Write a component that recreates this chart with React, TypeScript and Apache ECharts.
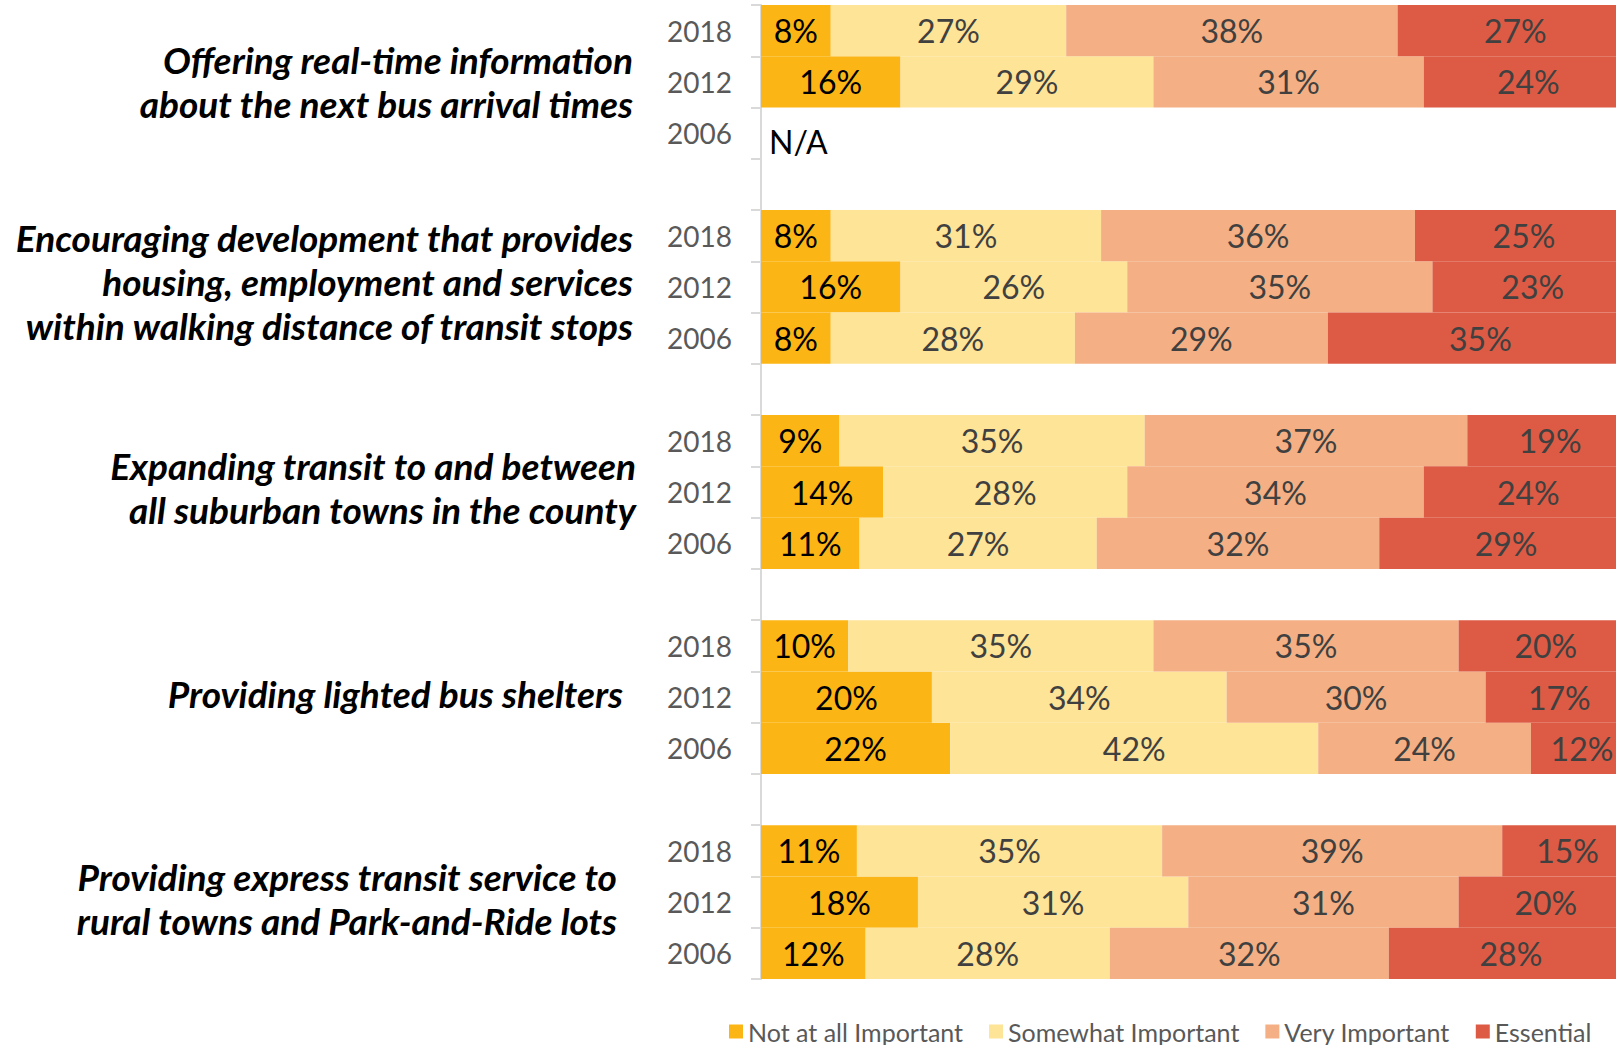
import React, { useEffect, useRef } from "react";
import * as echarts from "echarts";

const groupNames = [
  "Offering real-time information\nabout the next bus arrival times",
  "Encouraging development that provides\nhousing, employment and services\nwithin walking distance of transit stops",
  "Expanding transit to and between\nall suburban towns in the county",
  "Providing lighted bus shelters",
  "Providing express transit service to\nrural towns and Park-and-Ride lots",
];
const years = ["2018", "2012", "2006"];
const seriesNames = ["Not at all Important", "Somewhat Important", "Very Important", "Essential"];

// rows: per group 2018, 2012, 2006 (null = N/A)
const notAtAll = [8, 16, null, 8, 16, 8, 9, 14, 11.3, 10, 19.6, 21.7, 11, 18, 12];
const somewhat = [27, 29, null, 31, 26, 28, 35, 28, 27.2, 35, 33.8, 42.2, 35, 31, 28];
const veryImp = [38, 31, null, 36, 35, 29, 37, 34, 32.4, 35, 29.7, 24.4, 39, 31, 32];
const essential = [27, 24, null, 25, 23, 35, 19, 24, 29.1, 20, 16.9, 11.7, 15, 20, 28];

const colors = ["#FBB616", "#FEE497", "#F4B084", "#DD5B44"];
const labelColors = ["#000000", "#404040", "#404040", "#404040"];
const groupPadRight = [3, 3, 0, 13, 19];
const groupLift = [0, 11, 10, 8, 7];

export default function App() {
  const ref = useRef<HTMLDivElement>(null);
  useEffect(() => {
    if (!ref.current) return;
    const chart = echarts.init(ref.current, null, { renderer: "svg" });

    // build 19 slots: 3 rows per group + gap between groups
    const yearSlots: string[] = [];
    const groupSlots: any[] = [];
    const slotRow: (number | null)[] = [];
    const slotGroup: number[] = [];
    groupNames.forEach((g, gi) => {
      years.forEach((y, yi) => {
        yearSlots.push(y);
        groupSlots.push(
          yi === 1
            ? { value: g, textStyle: { padding: [0, groupPadRight[gi], 0, 0] } }
            : ""
        );
        slotRow.push(gi * 3 + yi);
        slotGroup.push(gi);
      });
      if (gi < groupNames.length - 1) {
        yearSlots.push("");
        groupSlots.push("");
        slotRow.push(null);
        slotGroup.push(gi);
      }
    });

    const rich: any = {};
    groupLift.forEach((h, gi) => {
      rich["s" + gi] = { fontSize: 1, lineHeight: Math.max(h, 1), color: "transparent" };
    });

    const allSeries = [notAtAll, somewhat, veryImp, essential];
    const series = allSeries.map((arr, si) => ({
      name: seriesNames[si],
      type: "bar",
      stack: "total",
      barCategoryGap: "0%",
      itemStyle: { color: colors[si] },
      label: {
        show: true,
        position: "inside",
        fontFamily: "Lato",
        fontSize: 32,
        color: labelColors[si],
        formatter: (p: any) => (p.value == null ? "" : Math.round(p.value) + "%"),
      },
      data: slotRow.map((r) => {
        if (r === null) return null;
        const v = arr[r];
        if (v === null && si === 0) {
          return {
            value: 0,
            label: {
              show: true,
              position: "right",
              distance: 8,
              offset: [0, 8],
              formatter: "N/A",
              color: "#000",
            },
          };
        }
        return v;
      }),
    }));

    chart.setOption({
      animation: false,
      grid: { left: 761, right: -17, top: 5, bottom: 66, containLabel: false, outerBoundsMode: "none" },
      legend: {
        data: seriesNames,
        left: 724,
        top: 1014,
        icon: "rect",
        itemWidth: 14,
        itemHeight: 14,
        itemGap: 26,
        textStyle: { fontFamily: "Lato", fontSize: 25, color: "#595959" },
      },
      xAxis: {
        type: "value",
        min: 0,
        max: 100,
        show: false,
      },
      yAxis: [
        {
          type: "category",
          position: "left",
          inverse: true,
          data: yearSlots,
          axisLine: { show: true, lineStyle: { color: "#D9D9D9", width: 2 } },
          axisTick: { show: true, interval: 0, length: 10, lineStyle: { color: "#D9D9D9", width: 2 } },
          axisLabel: {
            interval: 0,
            margin: 29,
            fontFamily: "Lato",
            fontSize: 28,
            color: "#595959",
          },
        },
        {
          type: "category",
          position: "left",
          offset: 0,
          inverse: true,
          data: groupSlots,
          axisLine: { show: false },
          axisTick: { show: false },
          axisLabel: {
            interval: 0,
            margin: 125,
            fontFamily: "Lato",
            fontSize: 37,
            fontWeight: "bold",
            fontStyle: "italic",
            color: "#000",
            lineHeight: 44,
            align: "right",
            rich,
            formatter: (v: string, i: number) => {
              if (!v) return "";
              const gi = slotGroup[i];
              return groupLift[gi] > 0 ? `${v}\n{s${gi}| }` : v;
            },
          },
        },
      ],
      series,
    });
    return () => chart.dispose();
  }, []);
  return (
    <div
      ref={ref}
      style={{ position: "fixed", left: 0, top: 0, width: 1616, height: 1045, background: "#fff" }}
    />
  );
}
